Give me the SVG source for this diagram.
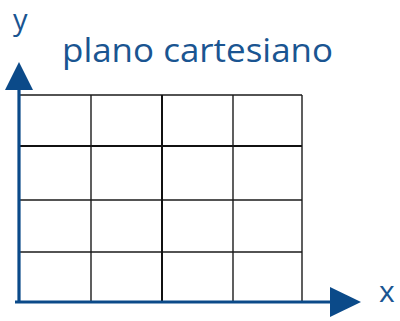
<svg xmlns="http://www.w3.org/2000/svg" width="400" height="321" viewBox="0 0 400 321">
<style>
.g{stroke:#1a1a1a;stroke-width:1.4;fill:none}
.gb{stroke:#111;stroke-width:2;fill:none}
.ax{stroke:#0b4a89;stroke-width:3.2;fill:none}
.ah{fill:#0b4a89}
.t{font-family:"Open Sans","DejaVu Sans",sans-serif;fill:#1a5591}
</style>
<rect width="400" height="321" fill="#fff"/>
<g id="grid">
<line class="g" x1="20" y1="95" x2="302" y2="95"/>
<line class="gb" x1="20" y1="146" x2="302" y2="146"/>
<line class="g" x1="20" y1="200" x2="302" y2="200"/>
<line class="g" x1="20" y1="252" x2="302" y2="252"/>
<line class="g" x1="91" y1="95" x2="91" y2="302"/>
<line class="gb" x1="162" y1="95" x2="162" y2="302"/>
<line class="g" x1="233" y1="95" x2="233" y2="302"/>
<line class="g" x1="302" y1="95" x2="302" y2="302"/>
</g>
<g id="axes">
<line class="ax" x1="19" y1="303" x2="19" y2="88"/>
<polygon class="ah" points="19,62 33,90 5,90"/>
<line class="ax" x1="15" y1="302" x2="332" y2="302"/>
<polygon class="ah" points="361,302 330,287 330,317"/>
</g>
<g id="labels">
<text class="t" x="13" y="30" font-size="29">y</text>
<text class="t" x="379" y="302" font-size="30">x</text>
<text class="t" x="62" y="62" font-size="32" textLength="271" lengthAdjust="spacingAndGlyphs">plano cartesiano</text>
</g>
</svg>
